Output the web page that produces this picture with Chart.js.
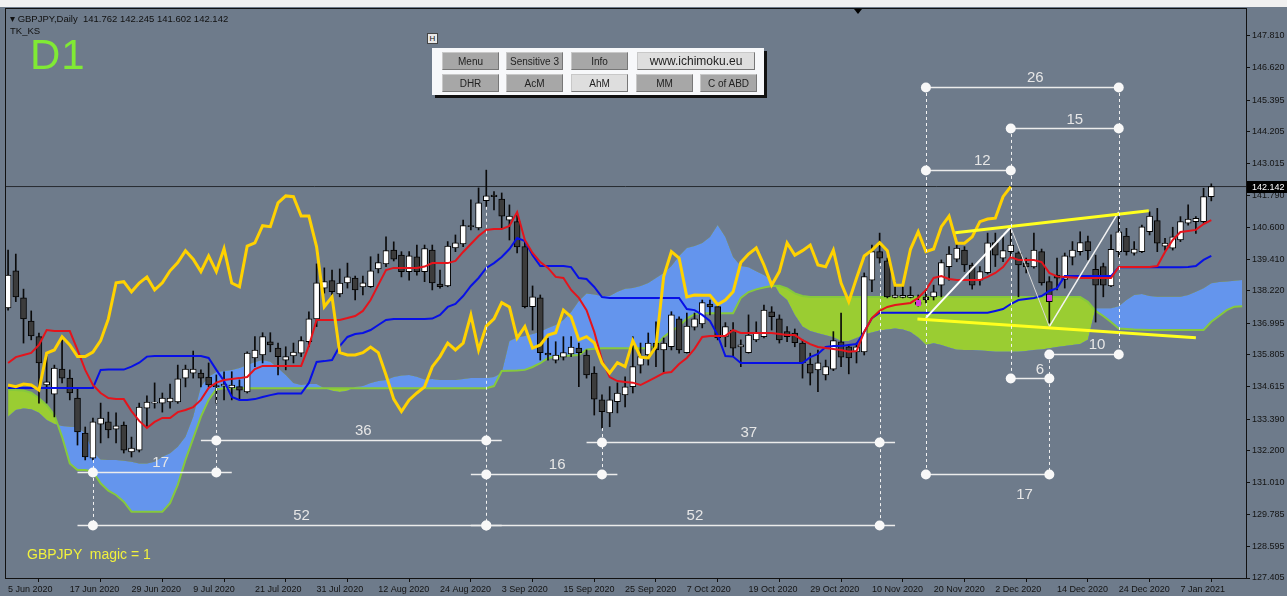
<!DOCTYPE html>
<html>
<head>
<meta charset="utf-8">
<script src="https://cdn.jsdelivr.net/npm/chart.js@4.4.0/dist/chart.umd.min.js"></script>
<style>
  html, body { margin: 0; padding: 0; background: #6e7b8b; overflow: hidden; }
  #wrap { position: relative; width: 1287px; height: 596px; background: #6e7b8b; }
  #topstrip { position: absolute; left: 0; top: 0; width: 1287px; height: 7px; background: #f0f0f0; z-index: 3; }
  #chart { position: absolute; left: 0; top: 0; }
  .txt { position: absolute; white-space: pre; z-index: 4; font-family: "Liberation Sans", sans-serif; }
  #hdr { left: 10px; top: 13px; font-size: 9.5px; color: #111; }
  #tk { left: 10px; top: 25px; font-size: 9.5px; color: #111; }
  #d1 { left: 30px; top: 31px; font-size: 42px; color: #80ea34; letter-spacing: 1px; }
  #magic { left: 27px; top: 546px; font-size: 14px; color: #f2f23c; }
  #hbtn { position: absolute; left: 427px; top: 33px; width: 9px; height: 9px; background: #e8e8e8; border: 1px solid #444;
          font: 8px "Liberation Sans", sans-serif; line-height: 9px; text-align: center; color: #111; z-index: 4; }
  #panel { position: absolute; left: 432px; top: 48px; width: 332px; height: 47px; background: #f7f8fa;
           box-shadow: 3px 3px 0 #111; z-index: 4; }
  .btn { position: absolute; height: 18px; display: flex; align-items: center; justify-content: center;
         font: 10px "Liberation Sans", sans-serif; color: #222; background: #a7a7a7;
         border-top: 1px solid #c8c8c8; border-left: 1px solid #c8c8c8;
         border-right: 1px solid #777; border-bottom: 1px solid #777; box-sizing: border-box; }
  .btn.light { background: #dedede; }
  #tri { position: absolute; left: 854px; top: 9px; width: 0; height: 0; border-left: 4px solid transparent;
         border-right: 4px solid transparent; border-top: 5px solid #000; z-index: 4; }
</style>
</head>
<body>
<div id="wrap">
  <div id="topstrip"></div>
  <canvas id="chart" width="1287" height="596"></canvas>
  <div class="txt" id="hdr"></div>
  <div class="txt" id="tk">TK_KS</div>
  <div class="txt" id="d1">D1</div>
  <div class="txt" id="magic">GBPJPY  magic = 1</div>
  <div id="hbtn">H</div>
  <div id="tri"></div>
  <div id="panel">
    <div class="btn" style="left:10px;top:4px;width:57px">Menu</div>
    <div class="btn" style="left:74px;top:4px;width:57px">Sensitive 3</div>
    <div class="btn" style="left:139px;top:4px;width:57px">Info</div>
    <div class="btn light" style="left:205px;top:4px;width:118px;font-size:12px">www.ichimoku.eu</div>
    <div class="btn" style="left:10px;top:26px;width:57px">DHR</div>
    <div class="btn" style="left:74px;top:26px;width:57px">AcM</div>
    <div class="btn light" style="left:139px;top:26px;width:57px">AhM</div>
    <div class="btn" style="left:204px;top:26px;width:57px">MM</div>
    <div class="btn" style="left:268px;top:26px;width:57px">C of ABD</div>
  </div>
</div>
<script>
// daily bars 5 Jun 2020 .. 13 Jan 2021
const opens = [137.57,138.97,137.95,137.08,136.49,134.67,134.33,135.27,134.93,134.18,
  132.86,131.92,133.20,133.28,133.01,133.16,132.15,132.22,133.80,133.99,
  133.99,134.03,134.03,134.93,135.12,135.12,134.97,134.65,134.63,134.56,
  134.61,134.41,135.69,135.80,136.30,136.06,135.61,135.77,135.87,136.30,
  137.16,138.32,138.60,138.10,138.51,138.70,138.36,138.37,139.04,139.23,
  139.75,139.56,138.94,139.50,138.94,139.75,138.47,138.40,139.83,139.98,
  140.67,140.58,141.61,141.82,141.67,140.88,140.82,139.88,137.62,137.95,
  135.87,135.61,135.72,135.84,136.06,135.80,135.12,134.11,133.62,134.04,
  134.30,134.61,135.42,135.80,136.25,135.99,136.11,137.16,135.89,136.85,
  136.97,137.72,137.62,136.48,136.74,136.10,135.89,136.37,136.49,137.43,
  137.16,136.68,136.63,136.25,135.46,135.24,135.05,135.27,136.30,136.11,
  135.92,135.92,138.62,139.69,139.35,137.97,137.97,137.97,137.79,137.99,
  137.99,138.43,139.13,139.41,139.75,139.19,138.62,138.90,140.03,139.45,
  139.69,139.65,139.26,139.12,139.69,138.56,138.81,138.65,139.48,139.69,
  140.07,139.03,139.13,138.40,139.69,140.28,139.63,139.69,140.44,140.86,
  139.90,139.82,140.13,140.76,140.82,140.82,141.762];
const highs = [139.75,139.60,138.28,137.46,136.63,135.74,135.42,136.37,135.24,134.56,
  133.09,133.43,133.99,133.65,133.62,133.28,132.71,133.99,134.26,134.75,
  134.37,134.71,135.42,135.42,135.95,135.24,135.50,135.05,135.17,135.17,
  134.86,135.92,136.49,136.64,136.64,136.25,136.11,136.25,136.49,137.43,
  139.23,139.08,139.00,139.04,139.26,138.77,138.77,139.50,139.60,140.25,
  140.06,139.69,139.69,139.94,139.94,139.94,139.00,140.07,140.32,140.88,
  141.64,142.09,142.76,141.95,141.90,141.45,141.07,140.07,138.40,138.06,
  136.44,136.30,136.49,136.49,136.25,135.99,135.36,134.30,134.61,134.75,
  134.98,136.49,136.25,136.63,137.05,136.44,137.43,137.24,137.38,137.38,
  137.87,137.87,137.64,137.02,137.02,136.37,137.31,137.05,137.68,137.62,
  137.31,136.87,136.78,136.37,135.87,135.99,135.61,136.68,137.38,136.18,
  136.25,138.89,139.94,140.39,139.45,138.56,138.51,138.37,138.06,138.25,
  138.43,139.38,139.88,140.02,139.88,139.26,139.13,140.39,140.39,140.32,
  140.58,139.69,139.45,140.39,139.79,138.75,139.45,139.64,140.07,140.44,
  140.28,139.56,139.26,140.32,141.01,140.57,140.07,140.69,141.19,141.32,
  140.19,140.61,141.01,141.45,141.01,142.08,142.245];
const lows = [137.49,137.81,136.25,136.37,133.99,133.99,133.47,134.75,134.11,132.41,
  131.85,131.85,132.49,132.68,132.49,132.11,131.96,132.15,133.09,133.80,
  133.65,133.80,133.98,134.60,134.93,134.60,134.60,133.99,134.11,134.11,
  134.11,134.37,135.36,135.50,135.92,135.05,135.24,135.50,135.74,136.11,
  136.87,138.13,138.06,137.99,138.32,137.87,138.06,138.34,138.89,139.13,
  139.34,138.74,138.62,138.81,138.56,138.25,138.32,138.37,139.69,139.88,
  140.51,140.51,141.38,141.26,140.58,140.13,139.64,137.57,136.74,135.61,
  135.61,135.50,135.61,135.74,134.61,134.93,133.54,133.05,133.10,133.62,
  133.85,134.37,135.12,135.42,135.36,135.12,135.99,135.87,135.87,136.74,
  136.82,137.31,136.37,136.11,135.74,135.36,135.87,136.30,136.44,136.74,
  136.25,136.30,136.11,134.93,134.67,134.42,134.86,135.21,135.36,135.09,
  135.50,135.80,138.18,139.26,137.95,137.95,137.95,137.95,137.64,137.76,
  137.87,137.99,138.62,139.31,138.94,138.28,138.43,138.85,139.13,139.31,
  139.50,137.99,138.89,139.07,138.43,137.00,138.25,138.32,139.19,139.56,
  139.38,137.04,137.99,138.37,139.50,139.56,139.56,139.65,140.32,139.69,
  139.75,139.75,140.07,140.69,140.38,140.76,141.602];
const closes = [138.81,137.99,137.16,136.52,135.50,134.79,135.31,134.93,134.37,132.90,
  131.96,133.28,133.43,132.98,133.13,132.22,132.30,133.84,134.03,134.03,
  134.18,134.18,134.90,135.27,135.27,134.93,134.67,134.61,134.71,134.67,
  134.48,135.87,135.99,136.49,136.18,135.74,135.74,135.91,136.34,137.16,
  138.52,138.56,138.18,138.51,138.74,138.25,138.52,138.97,139.28,139.73,
  139.41,138.94,139.53,138.94,139.81,138.51,138.37,139.90,140.02,140.67,
  140.63,141.53,141.79,141.76,141.03,141.03,139.87,137.62,137.99,135.89,
  135.80,135.80,135.89,136.10,135.89,135.05,134.14,133.67,134.11,134.37,
  134.60,135.36,135.74,136.25,135.99,136.25,137.31,135.99,136.89,137.16,
  137.77,137.61,136.44,136.87,136.06,136.18,136.55,136.64,137.49,137.24,
  136.37,136.49,136.26,135.50,135.12,135.51,135.36,136.34,135.72,135.69,
  136.11,138.75,139.69,139.45,137.99,138.06,138.05,138.05,137.70,137.87,
  138.18,139.28,139.60,139.83,139.19,138.43,138.94,140.02,139.56,139.73,
  139.94,139.19,139.12,139.75,138.51,137.81,138.69,139.53,139.75,140.03,
  139.73,138.43,138.43,139.78,140.44,139.69,139.79,140.63,141.03,140.01,
  140.01,140.25,140.82,140.92,140.95,141.76,142.142];

// Ichimoku lines
const tenkan = [135.50,135.72,135.80,135.88,136.18,136.74,136.70,136.70,136.70,135.99,
  135.24,134.67,134.37,134.18,134.14,134.14,133.69,133.32,133.05,133.28,
  133.43,133.43,133.65,133.73,133.84,134.11,134.56,134.76,134.86,134.90,
  134.93,134.97,135.27,135.39,135.39,135.39,135.39,135.39,135.39,136.14,
  137.12,137.12,137.12,137.12,137.19,137.27,137.46,137.87,138.44,139.00,
  139.08,139.08,139.08,139.08,139.13,139.26,139.26,139.26,139.34,139.68,
  139.98,140.28,140.51,140.54,140.54,140.66,141.18,140.13,139.64,139.30,
  139.08,138.74,138.70,138.25,137.95,137.49,136.67,135.61,134.97,134.82,
  134.78,134.76,134.67,134.82,134.97,135.12,135.16,135.46,135.69,136.03,
  136.48,136.52,136.52,136.52,136.74,136.63,136.63,136.63,136.63,136.63,
  136.59,136.55,136.55,136.36,136.21,136.10,136.06,136.03,135.99,135.92,
  135.95,136.67,137.19,137.46,137.61,137.68,137.72,137.76,137.95,138.25,
  138.70,138.77,138.66,138.62,138.62,138.62,138.62,138.74,138.89,139.11,
  139.49,139.38,139.38,139.38,139.30,138.89,138.76,138.74,138.72,138.70,
  138.70,138.70,138.70,138.70,139.11,139.11,139.11,139.11,139.11,139.15,
  139.68,140.13,140.43,140.47,140.51,140.73,140.88];
const kijun = [134.56,134.56,134.56,134.56,134.56,134.56,134.56,134.56,134.56,134.56,
  134.56,134.56,135.24,135.25,135.25,135.25,135.36,135.51,135.74,135.76,
  135.76,135.76,135.76,135.76,135.76,135.76,135.69,135.24,134.82,134.22,
  134.11,134.11,134.14,134.22,134.29,134.35,134.35,134.35,134.35,134.75,
  135.54,135.57,135.61,136.14,136.48,136.59,136.63,136.74,136.93,137.12,
  137.16,137.16,137.16,137.16,137.16,137.17,137.31,137.61,137.72,138.02,
  138.40,138.70,139.08,139.26,139.49,139.79,140.21,140.09,139.56,139.15,
  139.15,139.15,139.15,139.11,138.70,138.66,138.36,137.98,137.95,137.95,
  137.95,137.95,137.95,137.95,137.95,137.95,137.95,137.95,137.53,137.49,
  137.31,137.08,136.55,135.76,135.74,135.50,135.50,135.50,135.50,135.50,
  135.50,135.50,135.50,135.50,135.72,135.84,136.10,136.14,136.14,136.18,
  136.21,136.67,137.19,137.39,137.39,137.39,137.39,137.39,137.39,137.39,
  137.39,137.39,137.39,137.39,137.39,137.39,137.39,137.39,137.46,137.53,
  137.72,137.87,137.91,137.95,138.02,138.21,138.32,138.77,138.77,138.77,
  138.77,138.77,138.77,138.77,139.10,139.10,139.10,139.10,139.10,139.10,
  139.10,139.10,139.10,139.11,139.15,139.38,139.53];
// cloud edges, already shifted forward (runs 4 bars past the last candle)
const spanA = [133.48,133.73,133.79,133.76,133.63,133.35,133.20,133.13,133.10,133.08,
  132.85,132.16,131.87,131.85,131.85,131.82,131.78,131.72,131.72,131.78,
  131.97,132.10,132.35,132.72,133.48,134.61,134.98,135.16,135.20,135.24,
  135.31,135.42,135.54,135.61,135.55,135.31,135.05,134.75,134.67,134.71,
  134.71,134.55,134.45,134.41,134.45,134.60,134.63,134.75,134.82,134.86,
  134.97,135.03,135.05,134.98,134.88,134.90,134.86,134.86,134.86,134.90,
  134.93,134.93,134.93,134.97,135.12,136.33,136.46,136.52,136.59,136.68,
  136.82,136.93,137.12,137.42,137.83,138.12,138.08,138.02,138.02,138.18,
  138.29,138.32,138.40,138.51,138.70,138.89,139.15,139.53,139.83,139.90,
  140.02,140.24,140.69,140.24,139.49,139.15,139.10,138.95,138.81,138.62,
  138.12,137.87,137.31,136.87,136.70,136.62,136.54,136.47,136.33,136.33,
  136.44,136.57,136.65,136.72,136.76,136.80,136.76,136.67,136.46,136.18,
  136.24,136.18,136.08,136.00,135.99,135.99,135.97,135.95,135.92,135.92,
  135.92,135.92,135.95,135.99,136.01,136.05,136.10,136.14,136.18,136.21,
  136.37,137.56,137.56,137.56,137.64,137.87,138.06,138.10,138.02,137.99,
  137.99,137.99,137.99,138.06,138.18,138.31,138.50,138.55,138.57,138.60,138.62];
const spanB = [134.48,134.48,134.46,134.38,134.17,133.92,133.54,132.72,131.72,131.47,
  131.47,131.41,130.97,130.69,130.53,130.28,129.90,129.90,129.90,129.90,
  129.90,130.22,130.91,131.85,132.66,133.48,134.11,134.51,134.55,134.55,
  134.55,134.55,134.55,134.55,134.55,134.55,134.55,134.55,134.55,134.55,
  134.55,134.55,134.55,134.55,134.55,134.55,134.55,134.55,134.55,134.55,
  134.55,134.55,134.55,134.55,134.55,134.55,134.55,134.55,134.55,134.55,
  134.55,134.55,134.55,134.63,135.20,135.21,135.22,135.24,135.35,135.49,
  135.69,135.74,135.76,135.78,135.80,136.01,136.04,136.05,136.05,136.05,
  136.05,136.05,136.05,136.05,136.14,136.48,136.70,136.89,137.17,137.34,
  137.37,137.37,137.37,137.37,137.37,137.95,138.17,138.27,138.34,138.40,
  138.41,138.31,138.12,138.02,137.98,137.98,137.98,137.98,137.98,137.98,
  137.98,137.98,137.98,137.98,137.98,137.98,137.98,137.98,137.98,137.98,
  137.98,137.98,137.98,137.98,137.98,137.98,137.98,137.98,137.98,137.98,
  137.98,137.98,137.98,137.98,137.98,137.98,137.98,137.98,137.98,137.98,
  137.80,137.46,137.27,137.04,136.80,136.78,136.76,136.75,136.74,136.74,
  136.74,136.74,136.74,136.74,136.74,136.74,137.05,137.27,137.49,137.62,137.64];
const chikouShift = 26;

const xTickIdx = [0,8,16,24,32,40,48,56,64,72,80,88,96,104,112,120,128,136,144,152];
const xLabels = ['5 Jun 2020','17 Jun 2020','29 Jun 2020','9 Jul 2020','21 Jul 2020','31 Jul 2020',
  '12 Aug 2020','24 Aug 2020','3 Sep 2020','15 Sep 2020','25 Sep 2020','7 Oct 2020','19 Oct 2020',
  '29 Oct 2020','10 Nov 2020','20 Nov 2020','2 Dec 2020','14 Dec 2020','24 Dec 2020','7 Jan 2021'];
const yTicks = [147.810,146.620,145.395,144.205,143.015,141.790,140.600,139.410,138.220,
  136.995,135.805,134.615,133.390,132.200,131.010,129.785,128.595,127.405];

// drawn objects: bar counts between pivots
const spans = [
  {from: 11, to: 27, price: 131.40, label: '17', ext: 2, dx: 6, dy: -10},
  {from: 27, to: 62, price: 132.60, label: '36', ext: 2, dx: 12, dy: -10},
  {from: 62, to: 77, price: 131.32, label: '16', ext: 2, dx: 13, dy: -10},
  {from: 77, to: 113, price: 132.53, label: '37', ext: 2, dx: 8, dy: -10},
  {from: 11, to: 62, price: 129.40, label: '52', ext: 2, dx: 12, dy: -10},
  {from: 62, to: 113, price: 129.40, label: '52', ext: 2, dx: 12, dy: -10},
  {from: 119, to: 144, price: 145.89, label: '26', ext: 0, dx: 13, dy: -10},
  {from: 130, to: 144, price: 144.35, label: '15', ext: 0, dx: 10, dy: -9},
  {from: 119, to: 130, price: 142.77, label: '12', ext: 0, dx: 14, dy: -10},
  {from: 135, to: 144, price: 135.84, label: '10', ext: 0, dx: 13, dy: -10},
  {from: 130, to: 135, price: 134.93, label: '6', ext: 0, dx: 10, dy: -9},
  {from: 119, to: 135, price: 131.32, label: '17', ext: 0, dx: 37, dy: 20}
];
const vMarks = [
  {at: 11, from: 131.85, to: 129.40},
  {at: 27, from: 134.56, to: 131.40},
  {at: 62, from: 141.38, to: 129.40},
  {at: 77, from: 133.05, to: 131.32},
  {at: 113, from: 139.26, to: 129.40},
  {at: 119, from: 145.89, to: 131.32},
  {at: 130, from: 144.35, to: 134.93},
  {at: 135, from: 135.84, to: 131.32},
  {at: 144, from: 145.89, to: 135.84}
];
const trendLines = [
  {pts: [[122.8, 140.40], [147.9, 141.23]], color: '#ffff1e', width: 3},
  {pts: [[117.9, 137.16], [154.0, 136.45]], color: '#ffff1e', width: 3},
  {pts: [[119, 137.20], [130, 140.61]], color: '#ffffff', width: 2},
  {pts: [[130, 140.61], [135, 136.87]], color: '#d8d8d8', width: 1},
  {pts: [[135, 136.87], [144, 141.19]], color: '#f4f4f4', width: 1.5}
];
// signal marks (bar, price)
const signalMarks = [[118, 137.74], [135, 137.95]];

const lastPrice = closes[closes.length - 1];
document.getElementById('hdr').textContent = '\u25BE GBPJPY,Daily  ' +
  [opens, highs, lows, closes].map(a => a[a.length - 1].toFixed(3)).join(' ');

const AXIS_FONT = {family: '"Liberation Sans", sans-serif', size: 9};
const pts = arr => arr.map((v, i) => ({x: i, y: v}));

const frame = {
  id: 'frame',
  afterDatasetsDraw(chart) {
    const {ctx, chartArea: a, scales: {x, y}} = chart;
    ctx.save();
    ctx.beginPath();
    ctx.rect(a.left, a.top, a.right - a.left, a.bottom - a.top);
    ctx.clip();
    // dashed verticals
    ctx.strokeStyle = '#f2f2f2';
    ctx.lineWidth = 1;
    ctx.setLineDash([3, 3]);
    vMarks.forEach(v => {
      const px = Math.round(x.getPixelForValue(v.at)) + 0.5;
      ctx.beginPath();
      ctx.moveTo(px, y.getPixelForValue(v.from));
      ctx.lineTo(px, y.getPixelForValue(v.to));
      ctx.stroke();
    });
    ctx.setLineDash([]);
    // count spans
    ctx.font = '15px "Liberation Sans", Arial, sans-serif';
    ctx.textAlign = 'center';
    ctx.textBaseline = 'middle';
    spans.forEach(s => {
      const x1 = x.getPixelForValue(s.from), x2 = x.getPixelForValue(s.to);
      const py = Math.round(y.getPixelForValue(s.price)) + 0.5;
      ctx.strokeStyle = '#ececec';
      ctx.lineWidth = 1.5;
      ctx.beginPath();
      ctx.moveTo(x.getPixelForValue(s.from - s.ext), py);
      ctx.lineTo(x.getPixelForValue(s.to + s.ext), py);
      ctx.stroke();
      ctx.fillStyle = '#f8f8f8';
      [x1, x2].forEach(px => {
        ctx.beginPath();
        ctx.arc(px, py, 5, 0, Math.PI * 2);
        ctx.fill();
      });
      ctx.fillStyle = '#e6e6e6';
      ctx.fillText(s.label, (x1 + x2) / 2 + s.dx, py + s.dy);
    });
    // magenta signal squares
    ctx.fillStyle = '#d33ad8';
    signalMarks.forEach(m => {
      const px = x.getPixelForValue(m[0]), py = y.getPixelForValue(m[1]);
      ctx.fillRect(Math.round(px) - 2, Math.round(py) - 3, 5, 6);
    });
    ctx.restore();

    // plot frame (left/top edges)
    ctx.save();
    ctx.strokeStyle = '#111';
    ctx.lineWidth = 1;
    ctx.strokeRect(a.left + 0.5, a.top + 0.5, a.right - a.left, a.bottom - a.top);
    ctx.restore();
  },
  afterDraw(chart) {
    const {ctx, chartArea: a, scales: {y}} = chart;
    const py = Math.round(y.getPixelForValue(lastPrice));
    ctx.save();
    ctx.fillStyle = '#000';
    ctx.fillRect(a.right + 1, py - 6, 40, 12);
    ctx.fillStyle = '#fff';
    ctx.font = '9px "Liberation Sans", sans-serif';
    ctx.textBaseline = 'middle';
    ctx.textAlign = 'left';
    ctx.fillText(lastPrice.toFixed(3), a.right + 6, py + 0.5);
    ctx.restore();
  }
};

const datasets = [
  {type: 'line', data: pts(spanA), borderColor: 'rgba(0,0,0,0)', borderWidth: 0, pointRadius: 0, fill: false, order: 30},
  {type: 'line', data: pts(spanB), borderColor: '#86c93c', borderWidth: 2, pointRadius: 0,
   fill: {target: 0, above: '#9acd32', below: '#6495ed'}, order: 29},
  {type: 'line', data: [{x: -1, y: lastPrice}, {x: 162, y: lastPrice}], borderColor: '#262a30', borderWidth: 1,
   pointRadius: 0, fill: false, order: 25},
  {type: 'bar', data: highs.map((h, i) => ({x: i, y: [lows[i], h]})), backgroundColor: '#0a0a0a',
   barThickness: 1, grouped: false, order: 20},
  {type: 'bar', data: opens.map((o, i) => ({x: i, y: [o, closes[i]]})),
   backgroundColor: c => closes[c.dataIndex] >= opens[c.dataIndex] ? '#ffffff' : '#3c3c3c',
   borderColor: '#000', borderWidth: 1, borderSkipped: false, barThickness: 6, minBarLength: 1,
   grouped: false, order: 19},
  {type: 'line', data: pts(kijun), borderColor: '#0710e6', borderWidth: 2, pointRadius: 0, fill: false, order: 8},
  {type: 'line', data: pts(tenkan), borderColor: '#e4141c', borderWidth: 2, pointRadius: 0, fill: false, order: 7},
  {type: 'line', data: closes.slice(chikouShift).map((v, i) => ({x: i, y: v})), borderColor: '#ffd200',
   borderWidth: 3, pointRadius: 0, fill: false, order: 6}
];
trendLines.forEach((t, i) => datasets.push({
  type: 'line', data: t.pts.map(p => ({x: p[0], y: p[1]})), borderColor: t.color, borderWidth: t.width,
  pointRadius: 0, fill: false, order: 2 + i * 0.1
}));

new Chart(document.getElementById('chart'), {
  type: 'line',
  data: {datasets},
  options: {
    responsive: false,
    animation: false,
    layout: {padding: {left: 5, top: 8, right: 0, bottom: 0}},
    plugins: {legend: {display: false}, tooltip: {enabled: false}},
    elements: {line: {tension: 0}},
    scales: {
      x: {
        type: 'linear', min: -0.4, max: 160.5, offset: false,
        grid: {display: true, drawOnChartArea: false, drawTicks: true, tickLength: 4, color: '#111'},
        border: {display: true, color: '#111'},
        afterBuildTicks: s => { s.ticks = xTickIdx.map(v => ({value: v})); },
        afterFit: s => { s.height = 18; },
        ticks: {autoSkip: false, maxRotation: 0, align: 'start', padding: 2, color: '#141414', font: AXIS_FONT,
                callback: (v, i) => xLabels[i]}
      },
      y: {
        type: 'linear', position: 'right', min: 127.405, max: 148.864,
        grid: {display: true, drawOnChartArea: false, drawTicks: true, tickLength: 4, color: '#111'},
        border: {display: true, color: '#111'},
        afterBuildTicks: s => { s.ticks = yTicks.map(v => ({value: v})); },
        afterFit: s => { s.width = 41; },
        ticks: {autoSkip: false, padding: 2, color: '#141414', font: AXIS_FONT, callback: v => v.toFixed(3)}
      }
    }
  },
  plugins: [frame]
});
</script>
</body>
</html>
